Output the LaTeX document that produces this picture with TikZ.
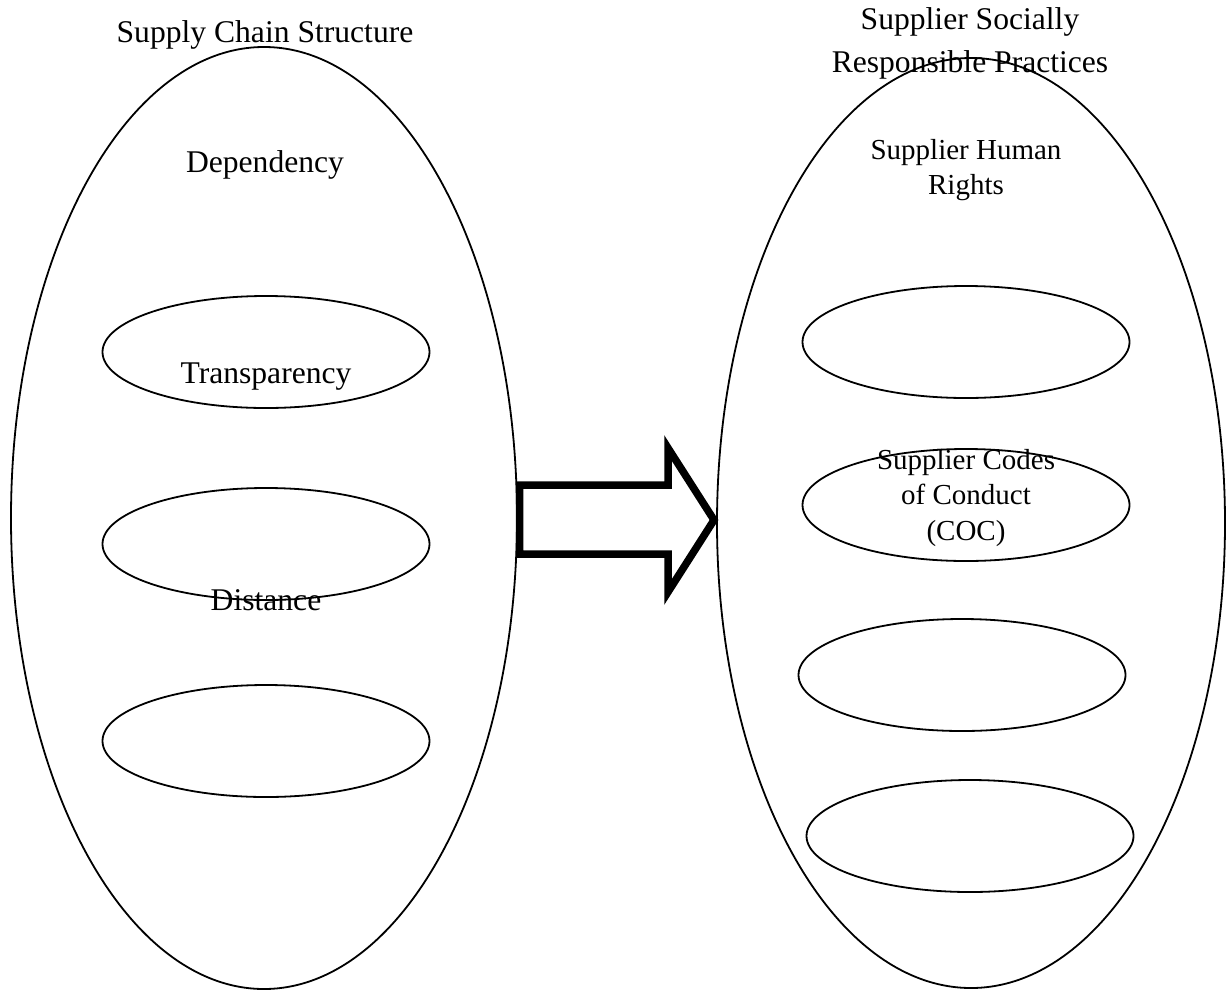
\documentclass[tikz,border=0pt]{standalone}
\usepackage{fontspec}
\setmainfont{Liberation Serif}
\usetikzlibrary{shapes.geometric}
\begin{document}
\begin{tikzpicture}[x=1pt,y=-1pt,
  bigell/.style={draw, ellipse, line width=1.8pt, inner sep=0pt, outer sep=0pt},
  smallell/.style={draw, ellipse, line width=1.8pt, inner sep=0pt, outer sep=0pt, minimum width=327pt, minimum height=112pt},
  titletxt/.style={font=\fontsize{31.6}{43}\selectfont, align=center, anchor=base, inner sep=0pt},
  innertxt/.style={font=\fontsize{29}{35.5}\selectfont, align=center, anchor=base, inner sep=0pt},
  blockarrow/.style={draw, line width=7.5pt, line join=miter, miter limit=20}]
\useasboundingbox (0,0) rectangle (1231,991);
% big ellipses
\node[bigell, minimum width=506pt, minimum height=942pt] (L) at (264,518) {};
\node[bigell, minimum width=508pt, minimum height=930pt] (R) at (971,523) {};
% left small ellipses
\node[smallell] (L1) at (266,352) {};
\node[smallell] (L2) at (266,544) {};
\node[smallell] (L3) at (266,741) {};
% right small ellipses
\node[smallell] (R1) at (966,342) {};
\node[smallell] (R2) at (966,505) {};
\node[smallell] (R3) at (962,675) {};
\node[smallell] (R4) at (970,836) {};
% texts
\node[titletxt] (tL) at (265,42) {Supply Chain Structure};
\node[titletxt] (tD) at (265,172) {Dependency};
\node[titletxt] (tT) at (266,383) {Transparency};
\node[titletxt] (tDi) at (266,610) {Distance};
\node[titletxt, anchor=north] (tR) at (970,7) {Supplier Socially\\Responsible Practices};
\node[innertxt, anchor=north] (tH) at (966,139) {Supplier Human\\Rights};
\node[innertxt, anchor=north] (tC) at (966,449) {Supplier Codes\\of Conduct\\(COC)};
% block arrow
\coordinate (a1) at (519.5,485);
\coordinate (a2) at (668,485);
\coordinate (a3) at (668,448);
\coordinate (a4) at (714,520);
\coordinate (a5) at (668,592);
\coordinate (a6) at (668,554);
\coordinate (a7) at (519.5,554);
\draw[blockarrow] (a1) -- (a2) -- (a3) -- (a4) -- (a5) -- (a6) -- (a7) -- cycle;
\end{tikzpicture}
\end{document}
